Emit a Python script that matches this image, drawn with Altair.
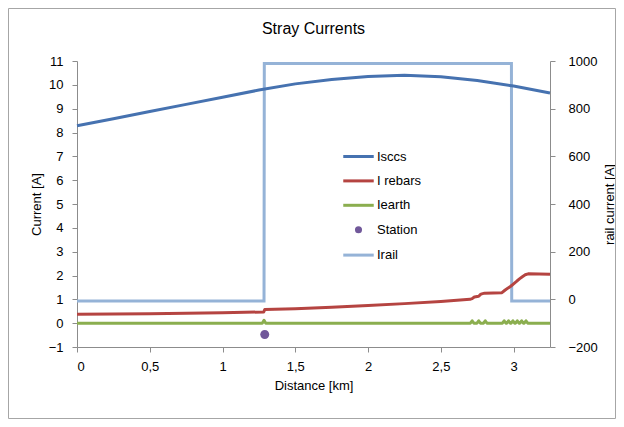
import altair as alt
import pandas as pd

# ---------------- data ----------------
series_names = ["Isccs", "I rebars", "Iearth", "Station", "Irail"]
series_colors = ["#4672B0", "#B54441", "#8BAE4F", "#71589A", "#95B3D7"]

sccs_km = [0, 0.25, 0.5, 0.75, 1.0, 1.25, 1.5, 1.75, 2.0, 2.25, 2.5, 2.75, 3.0, 3.25]
sccs_a = [8.28, 8.58, 8.88, 9.18, 9.48, 9.78, 10.04, 10.22, 10.35, 10.40, 10.34, 10.18, 9.95, 9.66]

rebars_km = [0, 0.5, 1.0, 1.283, 1.29, 1.5, 1.75, 2.0, 2.25, 2.5, 2.70, 2.715, 2.73,
             2.76, 2.775, 2.80, 2.92, 2.94, 2.96, 2.98, 3.00, 3.02, 3.04, 3.06, 3.08, 3.10, 3.25]
rebars_a = [0.37, 0.40, 0.44, 0.47, 0.57, 0.61, 0.67, 0.74, 0.82, 0.91, 1.00, 1.03, 1.10,
            1.13, 1.22, 1.26, 1.28, 1.38, 1.47, 1.55, 1.65, 1.75, 1.86, 1.95, 2.03, 2.07, 2.05]

earth_km = [0, 1.273, 1.285, 1.297,
            2.703, 2.715, 2.727,
            2.748, 2.76, 2.772,
            2.793, 2.805, 2.817,
            2.923, 2.935, 2.947,
            2.953, 2.965, 2.977,
            2.983, 2.995, 3.007,
            3.013, 3.025, 3.037,
            3.043, 3.055, 3.067,
            3.073, 3.085, 3.097,
            3.25]
earth_a = [0, 0, 0.12, 0,
           0, 0.1, 0,
           0, 0.1, 0,
           0, 0.1, 0,
           0, 0.1, 0,
           0, 0.1, 0,
           0, 0.1, 0,
           0, 0.1, 0,
           0, 0.1, 0,
           0, 0.1, 0,
           0]

station_km = [1.29]
station_a = [-0.48]

rail_km = [0, 1.285, 1.287, 2.985, 2.987, 3.25]
rail_a = [-7, -7, 990, 990, -7, -7]

x_ticks = [0, 0.5, 1, 1.5, 2, 2.5, 3]
left_ticks = list(range(-1, 12))
right_ticks = [-200, 0, 200, 400, 600, 800, 1000]

# ---------------- tables ----------------
def table(name, xs, ys):
    return pd.DataFrame({"km": xs, "val": ys, "series": name, "order": range(len(xs))})

left_df = pd.concat([
    table("Isccs", sccs_km, sccs_a),
    table("I rebars", rebars_km, rebars_a),
    table("Iearth", earth_km, earth_a),
], ignore_index=True)
station_df = table("Station", station_km, station_a)
rail_df = table("Irail", rail_km, rail_a)

FONT = "Liberation Sans"
LINE_SYM = "M -1.27 0 L 1.27 0"
DOT_SYM = "M -0.17 0 A 0.17 0.17 0 1 0 0.17 0 A 0.17 0.17 0 1 0 -0.17 0 Z"
shape_range = [LINE_SYM, LINE_SYM, LINE_SYM, DOT_SYM, LINE_SYM]

legend = alt.Legend(title=None, orient="none", legendX=268, legendY=82,
                    labelFont=FONT, labelFontSize=13, labelColor="#000000",
                    symbolSize=576, symbolStrokeWidth=3, labelOffset=5,
                    rowPadding=3.4, padding=0)

stroke_scale = alt.Scale(domain=series_names, range=series_colors)
fill_scale = alt.Scale(domain=series_names, range=series_colors)
shape_scale = alt.Scale(domain=series_names, range=shape_range)

x_enc = alt.X("km:Q", scale=alt.Scale(domain=[0, 3.25], nice=False, zero=False),
              axis=alt.Axis(values=x_ticks, title="Distance [km]", tickSize=5,
                            labelPadding=8, titlePadding=6,
                            labelExpr="replace(toString(datum.value), '.', ',')"))

y_left = alt.Y("val:Q", scale=alt.Scale(domain=[-1, 11], nice=False, zero=False),
               axis=alt.Axis(values=left_ticks, title="Current [A]", orient="left",
                             tickSize=5, labelPadding=9, titlePadding=5, format="d"))

y_right = alt.Y("val:Q", scale=alt.Scale(domain=[-200, 1000], nice=False, zero=False),
                axis=alt.Axis(values=right_ticks, title="rail current [A]", orient="right",
                              tickSize=5, labelPadding=13, titlePadding=19, titleAngle=270,
                              format="d"))

lines = alt.Chart(left_df).mark_line(strokeWidth=3, strokeJoin="round").encode(
    x=x_enc, y=y_left,
    stroke=alt.Stroke("series:N", scale=stroke_scale, legend=legend),
    order=alt.Order("order:Q"),
)

station = alt.Chart(station_df).mark_point(filled=True, opacity=1, size=2800, strokeWidth=0).encode(
    x=x_enc, y=y_left,
    fill=alt.Fill("series:N", scale=fill_scale, legend=legend),
    shape=alt.Shape("series:N", scale=shape_scale, legend=legend),
)

rail = alt.Chart(rail_df).mark_line(strokeWidth=3, strokeJoin="miter").encode(
    x=x_enc, y=y_right,
    stroke=alt.Stroke("series:N", scale=stroke_scale, legend=legend),
    order=alt.Order("order:Q"),
)

frame = alt.Chart(pd.DataFrame({"f": [0]})).mark_rect(
    fillOpacity=0, stroke="#A6A6A6", strokeWidth=1
).encode(
    x=alt.value(-68.5), x2=alt.value(538.5), y=alt.value(-52.5), y2=alt.value(357.5)
)

left_layer = alt.layer(lines, station)

chart = alt.layer(frame, rail, left_layer).resolve_scale(y="independent").properties(
    width=473, height=286,
    padding={"left": 69, "top": 53, "right": 66, "bottom": 72},
    autosize=alt.AutoSizeParams(type="none"),
    title=alt.TitleParams("Stray Currents", font=FONT, fontSize=16, fontWeight="normal",
                          color="#000000", offset=-28.5),
).configure_view(stroke=None).configure_axis(
    grid=False, domainColor="#8C8C8C", tickColor="#8C8C8C",
    labelFont=FONT, labelFontSize=13, labelColor="#000000",
    titleFont=FONT, titleFontSize=13, titleFontWeight="normal", titleColor="#000000",
)

chart.save("out.html", embed_options={"renderer": "svg", "actions": False})
